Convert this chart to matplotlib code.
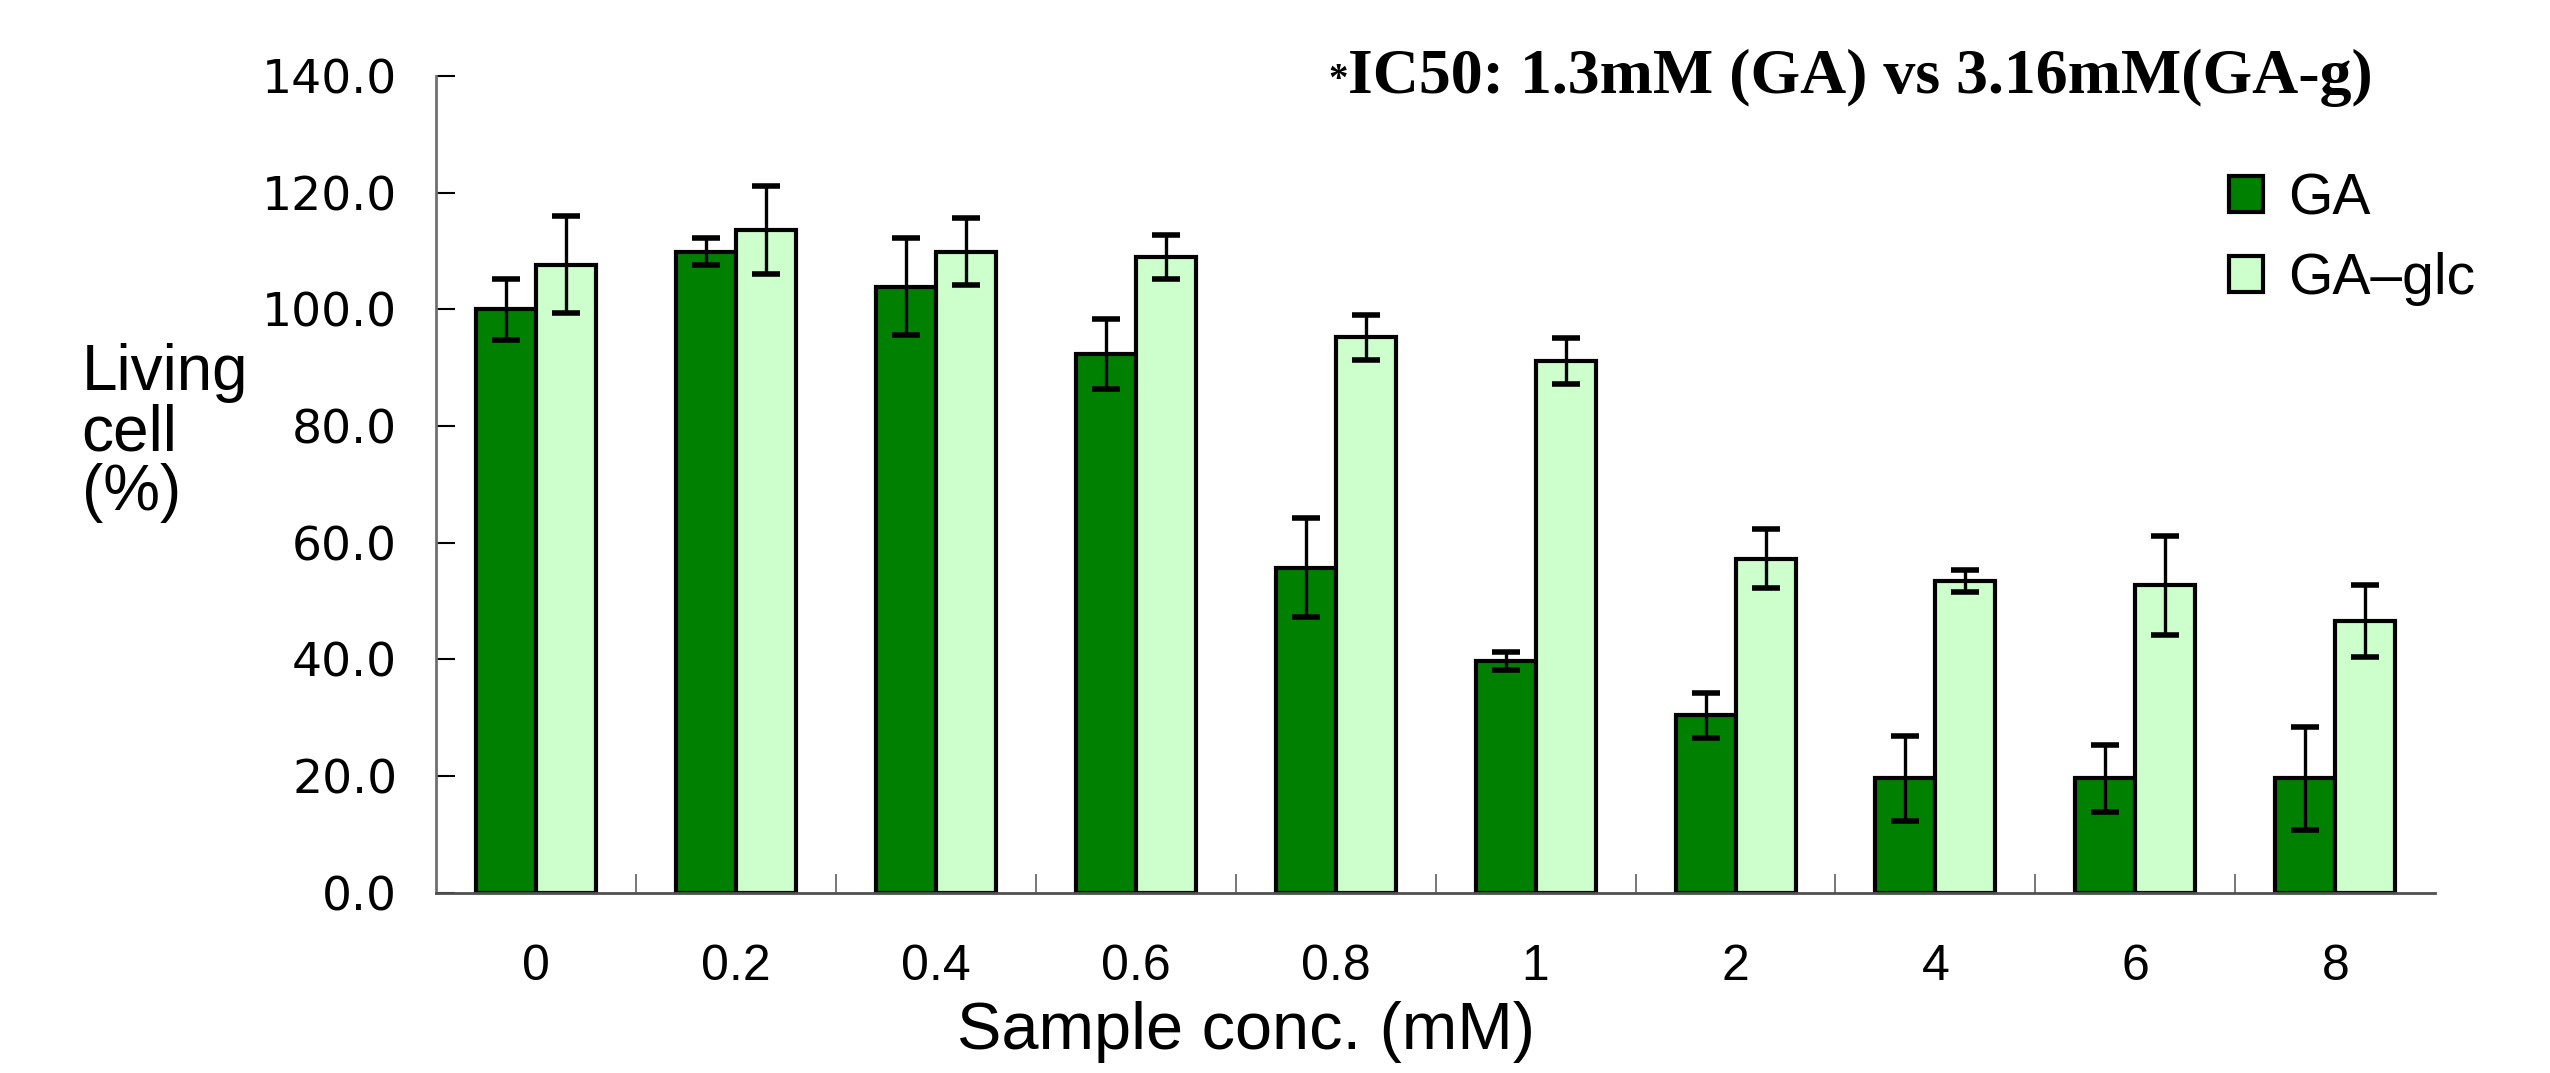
import numpy as np
import matplotlib
matplotlib.use('Agg')
import matplotlib.pyplot as plt
from matplotlib.ticker import FixedLocator

concs = ['0', '0.2', '0.4', '0.6', '0.8', '1', '2', '4', '6', '8']
ga = [100.0, 109.9, 103.9, 92.3, 55.7, 39.7, 30.4, 19.6, 19.6, 19.6]
ga_err = [5.2, 2.3, 8.3, 6.0, 8.5, 1.5, 3.9, 7.3, 5.8, 8.8]
ga_glc = [107.7, 113.6, 109.9, 109.0, 95.2, 91.2, 57.3, 53.4, 52.7, 46.6]
glc_err = [8.3, 7.6, 5.7, 3.8, 3.9, 3.9, 5.0, 1.9, 8.5, 6.2]
yticks = [0, 20, 40, 60, 80, 100, 120, 140]

plt.rcParams['font.family'] = ['Liberation Sans', 'DejaVu Sans']

fig = plt.figure(figsize=(25.5, 10.73), dpi=100)
ax = fig.add_axes([0.171, 0.168, 0.784, 0.761])

x = np.arange(len(concs))
w = 0.30
ax.bar(x - w / 2, ga, w, color='#008000', edgecolor='black', linewidth=3, label='GA', zorder=2)
ax.bar(x + w / 2, ga_glc, w, color='#CCFFCC', edgecolor='black', linewidth=3, label='GA\u2013glc', zorder=2)
ax.errorbar(x - w / 2, ga, yerr=ga_err, fmt='none', ecolor='black', elinewidth=2.4,
            capsize=10, capthick=4, zorder=3)
ax.errorbar(x + w / 2, ga_glc, yerr=glc_err, fmt='none', ecolor='black', elinewidth=2.4,
            capsize=10, capthick=4, zorder=3)

ax.set_xlim(-0.5, len(concs) - 0.5)
ax.set_ylim(0, 140)
ax.set_yticks(yticks)
ax.set_yticklabels(['%.1f' % v for v in yticks], fontsize=34, family='DejaVu Sans')
ax.set_xticks(x)
ax.set_xticklabels(concs, fontsize=36)
ax.xaxis.set_minor_locator(FixedLocator(np.arange(0.5, len(concs) - 0.5, 1.0)))
ax.tick_params(axis='x', which='major', length=0, pad=37)
ax.tick_params(axis='x', which='minor', direction='in', length=14, width=1.2, color='#606060')
ax.tick_params(axis='y', direction='in', length=14, width=1.5, color='black', pad=28)

for s in ['top', 'right']:
    ax.spines[s].set_visible(False)
ax.spines['left'].set_color('#707070')
ax.spines['left'].set_linewidth(2)
ax.spines['bottom'].set_color('#505050')
ax.spines['bottom'].set_linewidth(2)

fig.text(0.4885, 0.038, 'Sample conc. (mM)', fontsize=48, ha='center', va='center')
fig.text(0.032, 0.596, 'Living\ncell\n(%)', fontsize=46, va='center', ha='left', linespacing=1.0)

fig.text(0.521, 0.925, '*', fontsize=28, family='Liberation Serif', fontweight='bold', va='center')
fig.text(0.5285, 0.927, 'IC50: 1.3mM (GA) vs 3.16mM(GA-g)', fontsize=46,
         family='Liberation Serif', fontweight='bold', va='center')

leg = ax.legend(loc='upper left', bbox_to_anchor=(0.871, 0.945), fontsize=41, frameon=False,
                handlelength=0.6, handleheight=0.6, handletextpad=0.45, labelspacing=0.45)

fig.savefig('out.png', dpi=100)
